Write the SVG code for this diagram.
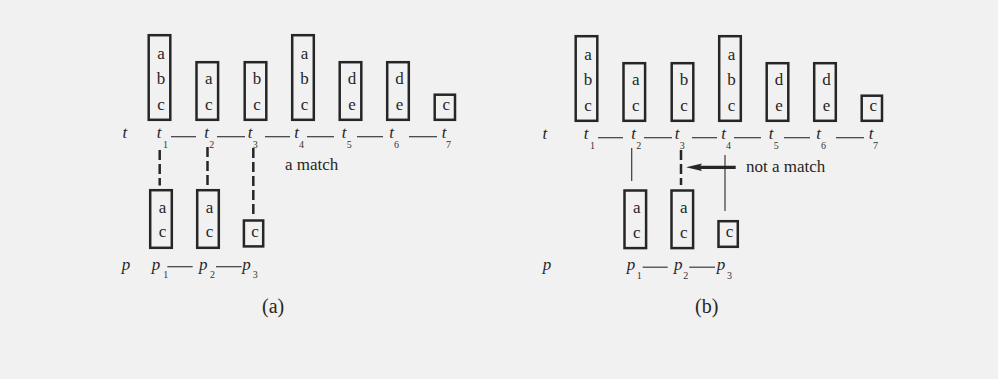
<svg xmlns="http://www.w3.org/2000/svg" width="998" height="379" viewBox="0 0 998 379">
<style>
.bx{fill:none;stroke:#262626;stroke-width:2.5}
.lt{font-family:"Liberation Serif","Times New Roman",serif;font-size:17px;fill:#262626;text-anchor:middle}
.it{font-family:"Liberation Serif","Times New Roman",serif;font-size:17px;font-style:italic;fill:#262626}
.sub{font-family:"Liberation Serif","Times New Roman",serif;font-size:10px;font-style:normal;fill:#333}
.tx{font-family:"Liberation Serif","Times New Roman",serif;font-size:17px;fill:#262626}
.cap{font-family:"Liberation Serif","Times New Roman",serif;font-size:20px;fill:#262626}
.ln{stroke:#3a3a3a;stroke-width:1.2;fill:none}
.dl{stroke:#262626;stroke-width:2.5;stroke-dasharray:10 4;fill:none}
</style>
<rect width="998" height="379" fill="#f1f1f1"/>

<!-- Panel (a) -->
<g id="a-t1"><rect class="bx" x="148.7" y="35.2" width="21.6" height="84.6"/><text class="lt" x="161" y="59.3">a</text><text class="lt" x="161" y="84.3">b</text><text class="lt" x="161" y="110">c</text></g>
<g id="a-t2"><rect class="bx" x="196.5" y="62.2" width="21.6" height="57.6"/><text class="lt" x="208.8" y="84">a</text><text class="lt" x="208.8" y="110">c</text></g>
<g id="a-t3"><rect class="bx" x="244.7" y="62.2" width="21.6" height="57.6"/><text class="lt" x="257" y="84">b</text><text class="lt" x="257" y="110">c</text></g>
<g id="a-t4"><rect class="bx" x="292.2" y="35.2" width="21.6" height="84.6"/><text class="lt" x="304.5" y="59.3">a</text><text class="lt" x="304.5" y="84.3">b</text><text class="lt" x="304.5" y="110">c</text></g>
<g id="a-t5"><rect class="bx" x="339.7" y="62.2" width="21.6" height="57.6"/><text class="lt" x="352" y="84">d</text><text class="lt" x="352" y="110">e</text></g>
<g id="a-t6"><rect class="bx" x="387.2" y="62.2" width="21.6" height="57.6"/><text class="lt" x="399.5" y="84">d</text><text class="lt" x="399.5" y="110">e</text></g>
<g id="a-t7"><rect class="bx" x="434.7" y="94.7" width="20.3" height="25.1"/><text class="lt" x="446.3" y="110">c</text></g>

<g id="a-p1"><rect class="bx" x="150.2" y="190.2" width="21.6" height="57.6"/><text class="lt" x="162.5" y="212.7">a</text><text class="lt" x="162.5" y="237.3">c</text></g>
<g id="a-p2"><rect class="bx" x="197.2" y="190.2" width="21.6" height="57.6"/><text class="lt" x="209.5" y="212.7">a</text><text class="lt" x="209.5" y="237.3">c</text></g>
<g id="a-p3"><rect class="bx" x="243.9" y="220.5" width="19.3" height="25.9"/><text class="lt" x="255" y="236.8">c</text></g>

<g id="a-labels">
<text class="it" x="122.5" y="138.3">t</text>
<text class="it" x="156.7" y="138.3">t<tspan class="sub" x="163" y="147.5">1</tspan></text>
<text class="it" x="204.3" y="138.3">t<tspan class="sub" x="209.3" y="147.5">2</tspan></text>
<text class="it" x="247.7" y="138.3">t<tspan class="sub" x="252.7" y="147.5">3</tspan></text>
<text class="it" x="294.3" y="138.3">t<tspan class="sub" x="299" y="147.5">4</tspan></text>
<text class="it" x="341.7" y="138.3">t<tspan class="sub" x="346.7" y="147.5">5</tspan></text>
<text class="it" x="389.3" y="138.3">t<tspan class="sub" x="394" y="147.5">6</tspan></text>
<text class="it" x="441.7" y="138.3">t<tspan class="sub" x="446" y="147.5">7</tspan></text>
<text class="it" x="121.7" y="269.5">p</text>
<text class="it" x="151.7" y="269.5">p<tspan class="sub" x="163.3" y="278">1</tspan></text>
<text class="it" x="199" y="269.5">p<tspan class="sub" x="210" y="278">2</tspan></text>
<text class="it" x="242.3" y="269.5">p<tspan class="sub" x="252.7" y="278">3</tspan></text>
<text class="tx" x="285" y="169.5">a match</text>
<text class="cap" x="262" y="313">(a)</text>
</g>

<!-- Panel (b) -->
<g id="b-t1"><rect class="bx" x="575.7" y="36.2" width="21.6" height="84.6"/><text class="lt" x="588" y="60.3">a</text><text class="lt" x="588" y="85.3">b</text><text class="lt" x="588" y="111">c</text></g>
<g id="b-t2"><rect class="bx" x="623.5" y="63.2" width="21.6" height="57.6"/><text class="lt" x="635.8" y="85">a</text><text class="lt" x="635.8" y="111">c</text></g>
<g id="b-t3"><rect class="bx" x="671.7" y="63.2" width="21.6" height="57.6"/><text class="lt" x="684" y="85">b</text><text class="lt" x="684" y="111">c</text></g>
<g id="b-t4"><rect class="bx" x="719.2" y="36.2" width="21.6" height="84.6"/><text class="lt" x="731.5" y="60.3">a</text><text class="lt" x="731.5" y="85.3">b</text><text class="lt" x="731.5" y="111">c</text></g>
<g id="b-t5"><rect class="bx" x="766.7" y="63.2" width="21.6" height="57.6"/><text class="lt" x="779" y="85">d</text><text class="lt" x="779" y="111">e</text></g>
<g id="b-t6"><rect class="bx" x="814.2" y="63.2" width="21.6" height="57.6"/><text class="lt" x="826.5" y="85">d</text><text class="lt" x="826.5" y="111">e</text></g>
<g id="b-t7"><rect class="bx" x="861.7" y="95.7" width="20.3" height="25.1"/><text class="lt" x="873.3" y="111">c</text></g>

<g id="b-p1"><rect class="bx" x="624.5" y="190.5" width="21.6" height="57.6"/><text class="lt" x="636.8" y="213">a</text><text class="lt" x="636.8" y="237.6">c</text></g>
<g id="b-p2"><rect class="bx" x="671.5" y="190.5" width="21.6" height="57.6"/><text class="lt" x="683.8" y="213">a</text><text class="lt" x="683.8" y="237.6">c</text></g>
<g id="b-p3"><rect class="bx" x="718.5" y="221.2" width="19.3" height="25.6"/><text class="lt" x="729.6" y="237.3">c</text></g>

<g id="b-labels">
<text class="it" x="542.5" y="139.3">t</text>
<text class="it" x="583.7" y="139.3">t<tspan class="sub" x="590" y="148.5">1</tspan></text>
<text class="it" x="631.3" y="139.3">t<tspan class="sub" x="636.3" y="148.5">2</tspan></text>
<text class="it" x="674.7" y="139.3">t<tspan class="sub" x="679.7" y="148.5">3</tspan></text>
<text class="it" x="721.3" y="139.3">t<tspan class="sub" x="726" y="148.5">4</tspan></text>
<text class="it" x="768.7" y="139.3">t<tspan class="sub" x="773.7" y="148.5">5</tspan></text>
<text class="it" x="816.3" y="139.3">t<tspan class="sub" x="821" y="148.5">6</tspan></text>
<text class="it" x="868.7" y="139.3">t<tspan class="sub" x="873" y="148.5">7</tspan></text>
<text class="it" x="542.7" y="270">p</text>
<text class="it" x="626.7" y="270">p<tspan class="sub" x="636.7" y="278.5">1</tspan></text>
<text class="it" x="674" y="270">p<tspan class="sub" x="683.3" y="278.5">2</tspan></text>
<text class="it" x="716.7" y="270">p<tspan class="sub" x="727" y="278.5">3</tspan></text>
<text class="tx" x="746" y="172">not a match</text>
<text class="cap" x="695" y="313">(b)</text>
</g>

<g id="connectors">
<!-- panel a chain -->
<line class="ln" x1="171" y1="136.7" x2="196" y2="136.7"/>
<line class="ln" x1="217" y1="136.7" x2="245" y2="136.7"/>
<line class="ln" x1="265" y1="136.7" x2="290" y2="136.7"/>
<line class="ln" x1="307" y1="136.7" x2="334" y2="136.7"/>
<line class="ln" x1="357" y1="136.7" x2="383" y2="136.7"/>
<line class="ln" x1="409" y1="136.7" x2="437" y2="136.7"/>
<line class="ln" x1="167.3" y1="266.7" x2="192.7" y2="266.7"/>
<line class="ln" x1="216" y1="266.7" x2="241.7" y2="266.7"/>
<line class="dl" x1="159.7" y1="150" x2="159.7" y2="185.5"/>
<line class="dl" x1="207.5" y1="147" x2="207.5" y2="189"/>
<line class="dl" x1="253.3" y1="148" x2="253.3" y2="214"/>
<!-- panel b chain -->
<line class="ln" x1="598" y1="137.7" x2="623" y2="137.7"/>
<line class="ln" x1="644" y1="137.7" x2="672" y2="137.7"/>
<line class="ln" x1="692" y1="137.7" x2="717" y2="137.7"/>
<line class="ln" x1="734" y1="137.7" x2="761" y2="137.7"/>
<line class="ln" x1="784" y1="137.7" x2="810" y2="137.7"/>
<line class="ln" x1="836" y1="137.7" x2="864" y2="137.7"/>
<line class="ln" x1="642.7" y1="267.2" x2="667.7" y2="267.2"/>
<line class="ln" x1="689.3" y1="267.2" x2="715" y2="267.2"/>
<line class="ln" x1="631.7" y1="148" x2="631.7" y2="181"/>
<line class="dl" x1="681" y1="150" x2="681" y2="185"/>
<line class="ln" x1="725" y1="155" x2="725" y2="211"/>
<line x1="735.7" y1="167.3" x2="698" y2="167.3" stroke="#262626" stroke-width="3.3"/>
<polygon points="686,167.3 702,163.6 699.5,167.3 702,171" fill="#262626"/>
</g>
</svg>
